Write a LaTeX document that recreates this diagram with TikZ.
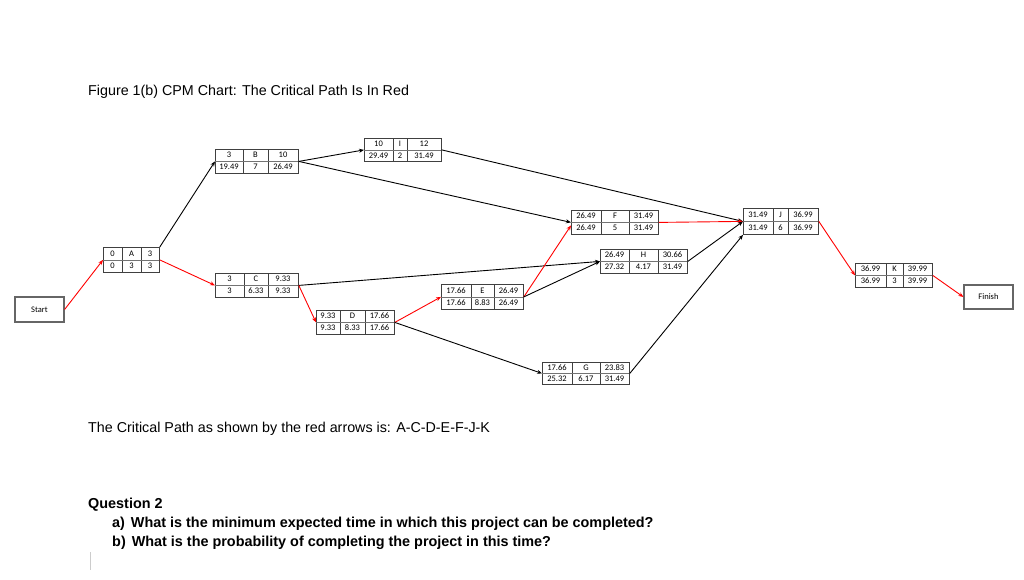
\documentclass[tikz,border=0pt]{standalone}
\usepackage{fontspec}
\setmainfont{Liberation Sans}
\newfontfamily\cellfont{Carlito}
\usetikzlibrary{arrows.meta,calc}
\tikzset{
  cpmframe/.style={draw=black!75, line width=0.8pt, inner sep=0pt, rectangle},
  cpmline/.style={draw=black!75, line width=0.6pt},
  cpmsep/.style={draw=black!55, line width=1pt},
  cpmtxt/.style={font=\cellfont\fontsize{8.5}{9}\selectfont, inner sep=0pt},
  endbox/.style={draw=black!60, line width=1.2pt, inner sep=0pt, font=\cellfont\fontsize{8.5}{9}\selectfont},
  conn/.style={draw=black, line width=0.9pt, -{Stealth[length=5pt,width=4pt]}},
  crit/.style={draw=red, line width=0.9pt, -{Stealth[length=5pt,width=4pt]}},
  bigtxt/.style={font=\fontsize{14.3}{17}\selectfont, inner sep=0pt, anchor=base west},
  qtxt/.style={font=\bfseries\fontsize{14.4}{17}\selectfont, inner sep=0pt, anchor=base west}
}
\newcommand\cpmgrid[8]{%
  \def\cxa{#2}\def\cxb{#3}\def\cxc{#4}\def\cxd{#5}\def\cya{#6}\def\cyb{#7}\def\cyc{#8}%
  \node[cpmframe, anchor=north west, minimum width={(#5-#2)*1pt}, minimum height={(#8-#6)*1pt}] (#1) at (#2,#6) {};
  \draw[cpmline] (#3,#6) -- (#3,#8) (#4,#6) -- (#4,#8);
  \draw[cpmsep] (#2,#7) -- (#5,#7);
}
\newcommand\cpmtext[6]{%
  \node[cpmtxt] at ({(\cxa+\cxb)/2},{(\cya+\cyb)/2}) {#1};
  \node[cpmtxt] at ({(\cxb+\cxc)/2},{(\cya+\cyb)/2}) {#2};
  \node[cpmtxt] at ({(\cxc+\cxd)/2},{(\cya+\cyb)/2}) {#3};
  \node[cpmtxt] at ({(\cxa+\cxb)/2},{(\cyb+\cyc)/2}) {#4};
  \node[cpmtxt] at ({(\cxb+\cxc)/2},{(\cyb+\cyc)/2}) {#5};
  \node[cpmtxt] at ({(\cxc+\cxd)/2},{(\cyb+\cyc)/2}) {#6};
}
\begin{document}
\begin{tikzpicture}[x=1pt,y=-1pt]
\useasboundingbox[fill=white] (0,0) rectangle (1024,579);

\node[bigtxt] (title) at (88,95) {Figure 1(b) CPM Chart: The Critical Path Is In Red};

% boxes
\node[endbox, minimum width=49pt, minimum height=25pt] (start) at (39.5,309.5) {Start};
\node[endbox, minimum width=49pt, minimum height=24pt] (finish) at (988.5,297) {Finish};

\cpmgrid{A}{103}{122}{141}{159}{247}{260}{272}
\cpmtext{0}{A}{3}{0}{3}{3}
\cpmgrid{B}{215}{243}{268}{298}{149}{161}{173}
\cpmtext{3}{B}{10}{19.49}{7}{26.49}
\cpmgrid{I}{364}{393}{407}{441}{138}{150}{161}
\cpmtext{10}{I}{12}{29.49}{2}{31.49}
\cpmgrid{C}{215}{244}{268}{298}{273}{285}{297}
\cpmtext{3}{C}{9.33}{3}{6.33}{9.33}
\cpmgrid{D}{316}{340}{365}{394}{310}{322}{334}
\cpmtext{9.33}{D}{17.66}{9.33}{8.33}{17.66}
\cpmgrid{E}{441}{471}{494}{523}{284}{297}{309}
\cpmtext{17.66}{E}{26.49}{17.66}{8.83}{26.49}
\cpmgrid{F}{571}{601}{629}{658}{210}{222}{234}
\cpmtext{26.49}{F}{31.49}{26.49}{5}{31.49}
\cpmgrid{H}{600}{629}{658}{687}{249}{261}{273}
\cpmtext{26.49}{H}{30.66}{27.32}{4.17}{31.49}
\cpmgrid{G}{542}{572}{600}{629}{362}{373}{384}
\cpmtext{17.66}{G}{23.83}{25.32}{6.17}{31.49}
\cpmgrid{J}{743}{773}{788}{818}{208}{221}{234}
\cpmtext{31.49}{J}{36.99}{31.49}{6}{36.99}
\cpmgrid{K}{855}{886}{903}{932}{263}{275}{287}
\cpmtext{36.99}{K}{39.99}{36.99}{3}{39.99}

% connectors
\draw[crit] (start.east) -- (A.west);
\draw[conn] (A.north east) -- (B.west);
\draw[crit] (A.east) -- (C.west);
\draw[conn] (B.east) -- (I.west);
\draw[conn] (B.east) -- (F.west);
\draw[conn] (I.east) -- (J.west);
\draw[conn] (C.east) -- (H.west);
\draw[crit] (C.east) -- (D.west);
\draw[crit] (D.east) -- (E.west);
\draw[conn] (D.east) -- (G.west);
\draw[crit] (E.east) -- ([yshift=-3pt]F.west);
\draw[conn] (E.east) -- (H.west);
\draw[crit] (F.east) -- (J.west);
\draw[conn] (H.east) -- (J.west);
\draw[conn] (G.east) -- (J.south west);
\draw[crit] (J.east) -- (K.west);
\draw[crit] (K.east) -- (finish.west);

\node[bigtxt] (cpath) at (88,432) {The Critical Path as shown by the red arrows is: A-C-D-E-F-J-K};
\node[qtxt] (q2) at (88,508) {Question 2};
\node[qtxt] (qa) at (112,527) {a)\hspace{6pt}What is the minimum expected time in which this project can be completed?};
\node[qtxt] (qb) at (112,546) {b)\hspace{6pt}What is the probability of completing the project in this time?};
\draw[black!20, line width=1pt] (90,552) -- (90,570);
\end{tikzpicture}
\end{document}
